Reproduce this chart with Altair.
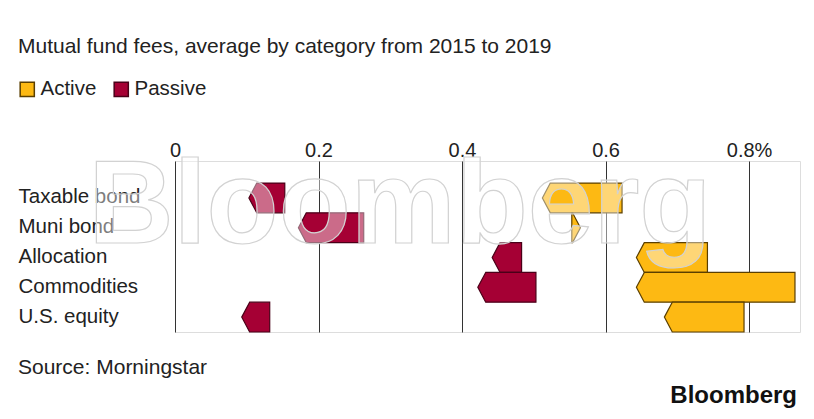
import altair as alt
import pandas as pd

title_text = "Mutual fund fees, average by category from 2015 to 2019"
source_text = "Source: Morningstar"
logo_text = "Bloomberg"

categories = ["Taxable bond", "Muni bond", "Allocation", "Commodities", "U.S. equity"]
active_2015 = [0.623, 0.553, 0.742, 0.864, 0.793]
active_2019 = [0.512, 0.565, 0.643, 0.643, 0.682]
passive_2015 = [0.153, 0.263, 0.483, 0.503, 0.132]
passive_2019 = [0.103, 0.172, 0.442, 0.422, 0.093]
types = ["Active", "Passive"]
tick_values = [0, 0.2, 0.4, 0.6, 0.8]

HEAD = 0.011  # arrow head depth in data units

rows = []
for i, cat in enumerate(categories):
    for typ, s_arr, e_arr in [("Active", active_2015, active_2019),
                              ("Passive", passive_2015, passive_2019)]:
        s, e = s_arr[i], e_arr[i]
        sid = f"{typ}-{cat}"
        if e < s:
            base = min(e + HEAD, s)
            pts = [(base, s, i), (e, s, i + 0.5), (base, s, i + 1)]
        else:
            base = max(e - HEAD, s)
            pts = [(s, base, i), (s, e, i + 0.5), (s, base, i + 1)]
        for (xl, xr, yy) in pts:
            rows.append({"id": sid, "type": typ, "xl": xl, "xr": xr, "y": yy})
df = pd.DataFrame(rows)

FONT = "Liberation Sans"
label_expr = "[" + ",".join("'" + c + "'" for c in categories) + "][floor(datum.value)]"

legend = alt.Legend(
    title=None, orient="none", legendX=-158, legendY=-82, direction="horizontal",
    symbolType="square", symbolSize=200, symbolStrokeWidth=1.5,
    labelFontSize=20.5, labelFont=FONT, labelColor="#222", labelOffset=3,
    columnPadding=14,
)
color_scale = alt.Scale(domain=types, range=["#fdb913", "#a50034"])
stroke_scale = alt.Scale(domain=types, range=["#5a3f00", "#4a0018"])

arrows = alt.Chart(df).mark_area(orient="horizontal", strokeWidth=1.2, fillOpacity=1).encode(
    x=alt.X("xl:Q", stack=None,
            scale=alt.Scale(domain=[0, 0.871], nice=False, zero=False),
            axis=alt.Axis(orient="top", values=tick_values, title=None,
                          labelExpr="datum.value >= 0.8 ? format(datum.value, '.1~f') + '%' : format(datum.value, '.1~f')",
                          labelFontSize=20, labelFont=FONT, labelColor="#222",
                          labelBaseline="alphabetic", labelPadding=5,
                          labelOverlap=False, labelFlush=False,
                          ticks=False, domain=False, grid=True,
                          gridColor="#333", gridWidth=1)),
    x2="xr:Q",
    y=alt.Y("y:Q",
            scale=alt.Scale(domain=[-0.74, 5], reverse=True, nice=False, zero=False),
            axis=alt.Axis(orient="left", values=[0.5, 1.5, 2.5, 3.5, 4.5], title=None,
                          labelExpr=label_expr, labelAlign="left", labelPadding=157,
                          labelFontSize=20.5, labelFont=FONT, labelColor="#222",
                          labelBaseline="middle", labelOffset=-1,
                          ticks=False, domain=False, grid=False)),
    fill=alt.Fill("type:N", scale=color_scale, legend=legend),
    stroke=alt.Stroke("type:N", scale=stroke_scale, legend=legend),
    detail="id:N",
)

title = alt.Chart(pd.DataFrame({"t": [title_text]})).mark_text(
    align="left", baseline="alphabetic", fontSize=21, font=FONT, color="#222"
).encode(x=alt.value(-157), y=alt.value(-108), text="t:N")

source = alt.Chart(pd.DataFrame({"t": [source_text]})).mark_text(
    align="left", baseline="alphabetic", fontSize=21, font=FONT, color="#222"
).encode(x=alt.value(-157), y=alt.value(213), text="t:N")

logo = alt.Chart(pd.DataFrame({"t": [logo_text]})).mark_text(
    align="right", baseline="alphabetic", fontSize=24, font=FONT, fontWeight="bold",
    color="#111"
).encode(x=alt.value(622), y=alt.value(242), text="t:N")

watermark = alt.Chart(pd.DataFrame({"t": [logo_text]})).mark_text(
    align="center", baseline="alphabetic", fontSize=118, font=FONT, fontWeight="bold",
    fill="white", fillOpacity=0.42, stroke="#d2d2d2", strokeWidth=1.2
).encode(x=alt.value(225), y=alt.value(82), text="t:N")

chart = alt.layer(arrows, watermark, title, source, logo).properties(
    width=625, height=171,
    padding={"left": 167, "top": 153, "right": 5, "bottom": 79},
    autosize=alt.AutoSizeParams(type="none"),
).configure_view(stroke=None).configure(background="white")

chart.save("out.html", embed_options={"renderer": "svg", "actions": False})
